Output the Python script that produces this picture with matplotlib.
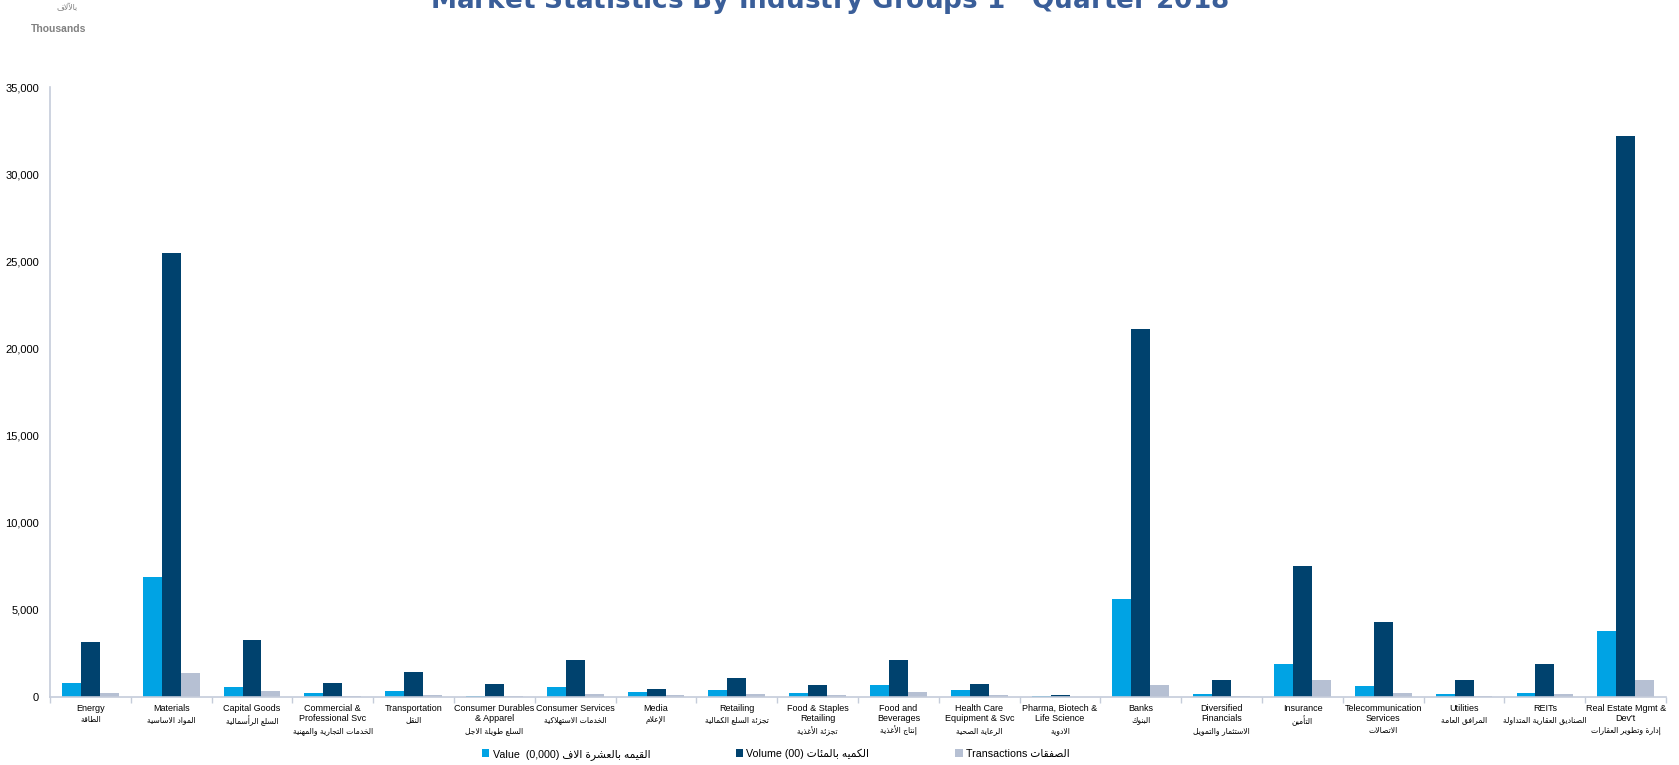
import matplotlib
matplotlib.use("Agg")
import matplotlib.pyplot as plt
import numpy as np

plt.rcParams['font.family'] = ['Liberation Sans', 'DejaVu Sans']

# categories (English, Arabic)
categories = ["Energy", "Materials", "Capital Goods", "Commercial &\nProfessional Svc",
              "Transportation", "Consumer Durables\n& Apparel", "Consumer Services", "Media",
              "Retailing", "Food & Staples\nRetailing", "Food and\nBeverages",
              "Health Care\nEquipment & Svc", "Pharma, Biotech &\nLife Science", "Banks",
              "Diversified\nFinancials", "Insurance", "Telecommunication\nServices", "Utilities",
              "REITs", "Real Estate Mgmt &\nDev't"]
categories_ar = ["الطاقة", "المواد الاساسية", "السلع الرأسمالية", "الخدمات التجارية والمهنية",
                 "النقل", "السلع طويلة الاجل", "الخدمات الاستهلاكية", "الإعلام",
                 "تجزئة السلع الكمالية", "تجزئة الأغذية", "إنتاج الأغذية", "الرعاية الصحية",
                 "الادوية", "البنوك", "الاستثمار والتمويل", "التأمين", "الاتصالات",
                 "المرافق العامة", "الصناديق العقارية المتداولة", "إدارة وتطوير العقارات"]

# values in thousands
value = [0.78, 6.88, 0.60, 0.25, 0.35, 0.08, 0.60, 0.30, 0.42, 0.25, 0.68, 0.42,
         0.03, 5.65, 0.15, 1.92, 0.62, 0.20, 0.22, 3.80]
volume = [3.13, 25.5, 3.25, 0.80, 1.45, 0.72, 2.10, 0.48, 1.10, 0.68, 2.12, 0.72,
          0.10, 21.1, 1.00, 7.50, 4.30, 0.95, 1.92, 32.2]
transactions = [0.25, 1.40, 0.35, 0.08, 0.12, 0.05, 0.20, 0.12, 0.15, 0.10, 0.30, 0.12,
                0.02, 0.70, 0.05, 1.00, 0.25, 0.05, 0.15, 1.00]

yticks = [0, 5000, 10000, 15000, 20000, 25000, 30000, 35000]


# --- minimal Arabic shaping (presentation forms + right-to-left order) ---
_counts = [(0x621, 1)] + [(c, 2) for c in range(0x622, 0x626)] + [(0x626, 4), (0x627, 2), (0x628, 4), (0x629, 2)] \
    + [(c, 4) for c in range(0x62A, 0x62F)] + [(c, 2) for c in range(0x62F, 0x633)] \
    + [(c, 4) for c in range(0x633, 0x63B)] + [(c, 4) for c in range(0x641, 0x648)] \
    + [(0x648, 2), (0x649, 2), (0x64A, 4)]
FORMS = {}
_p = 0xFE80
for code, n in _counts:
    FORMS[code] = list(range(_p, _p + n))
    _p += n
LAM_ALEF = {0x622: 0xFEF5, 0x623: 0xFEF7, 0x625: 0xFEF9, 0x627: 0xFEFB}


def ar(s):
    out = []
    i = 0
    while i < len(s):
        o = ord(s[i])
        if o not in FORMS:
            out.append(s[i])
            i += 1
            continue
        prev = ord(s[i - 1]) if i > 0 else 32
        jp = prev in FORMS and len(FORMS[prev]) == 4
        if o == 0x644 and i + 1 < len(s) and ord(s[i + 1]) in LAM_ALEF:
            out.append(chr(LAM_ALEF[ord(s[i + 1])] + (1 if jp else 0)))
            i += 2
            continue
        f = FORMS[o]
        nxt = ord(s[i + 1]) if i + 1 < len(s) else 32
        jn = len(f) == 4 and nxt in FORMS and nxt != 0x621
        if jp and jn:
            k = 3
        elif jp and len(f) > 1:
            k = 1
        elif jn:
            k = 2
        else:
            k = 0
        out.append(chr(f[k]))
        i += 1
    return ''.join(reversed(out))


c_value = '#00A3E4'
c_volume = '#00426E'
c_trans = '#B6C0D3'
axis_col = '#C5CCDA'

fig = plt.figure(figsize=(16.79, 7.65), dpi=100)
ax = fig.add_axes([0.0298, 0.0889, 0.9625, 0.797])

x = np.arange(len(categories))
w = 0.234
ax.bar(x - w, np.array(value) * 1000, w, color=c_value, label='Value')
ax.bar(x, np.array(volume) * 1000, w, color=c_volume, label='Volume')
ax.bar(x + w, np.array(transactions) * 1000, w, color=c_trans, label='Transactions')

ax.set_xlim(-0.5, len(categories) - 0.5)
ax.set_ylim(0, 35000)
ax.set_yticks(yticks)
ax.set_yticklabels([f"{v:,}" for v in yticks], fontsize=8)
ax.tick_params(axis='y', length=0, pad=8)

ax.set_xticks(np.arange(len(categories) + 1) - 0.5, minor=True)
ax.set_xticks([])
ax.tick_params(axis='x', which='minor', length=4, color=axis_col, width=1)

for s in ['top', 'right']:
    ax.spines[s].set_visible(False)
for s in ['left', 'bottom']:
    ax.spines[s].set_color(axis_col)
    ax.spines[s].set_linewidth(1.2)

for i, (en, arb) in enumerate(zip(categories, categories_ar)):
    nlines = en.count('\n') + 1
    ax.annotate(en, xy=(i, 0), xycoords=('data', 'axes fraction'), xytext=(0, -5),
                textcoords='offset points', ha='center', va='top', fontsize=6.5,
                linespacing=1.15)
    ax.annotate(ar(arb), xy=(i, 0), xycoords=('data', 'axes fraction'),
                xytext=(0, -5 - 8 * nlines), textcoords='offset points',
                ha='center', va='top', fontsize=5.5, family='DejaVu Sans')

# legend
handles, _ = ax.get_legend_handles_labels()
leg_labels = ["Value  (0,000) " + ar("القيمه بالعشرة الاف"),
              "Volume (00) " + ar("الكميه بالمئات"),
              "Transactions " + ar("الصفقات")]
leg = fig.legend(handles, leg_labels, loc='center', bbox_to_anchor=(0.462, 0.014), ncol=3,
                 frameon=False, fontsize=7.7, handlelength=0.7, handleheight=0.7,
                 handletextpad=0.3, columnspacing=8)

fig.text(0.494, 1 - 9 / 765, "Market Statistics By Industry Groups 1$^{st}$ Quarter 2018",
         ha='center', va='baseline', fontsize=18.9, fontweight='bold',
         color='#3A5E99', family='DejaVu Sans')
fig.text(0.040, 1 - 8 / 765, ar("بالآلاف"), ha='center', va='center', fontsize=5.5,
         color='#7F7F7F', family='DejaVu Sans')
fig.text(0.035, 1 - 29 / 765, "Thousands", ha='center', va='center', fontsize=7.5,
         fontweight='bold', color='#808080')

fig.savefig("out.png", dpi=100)
